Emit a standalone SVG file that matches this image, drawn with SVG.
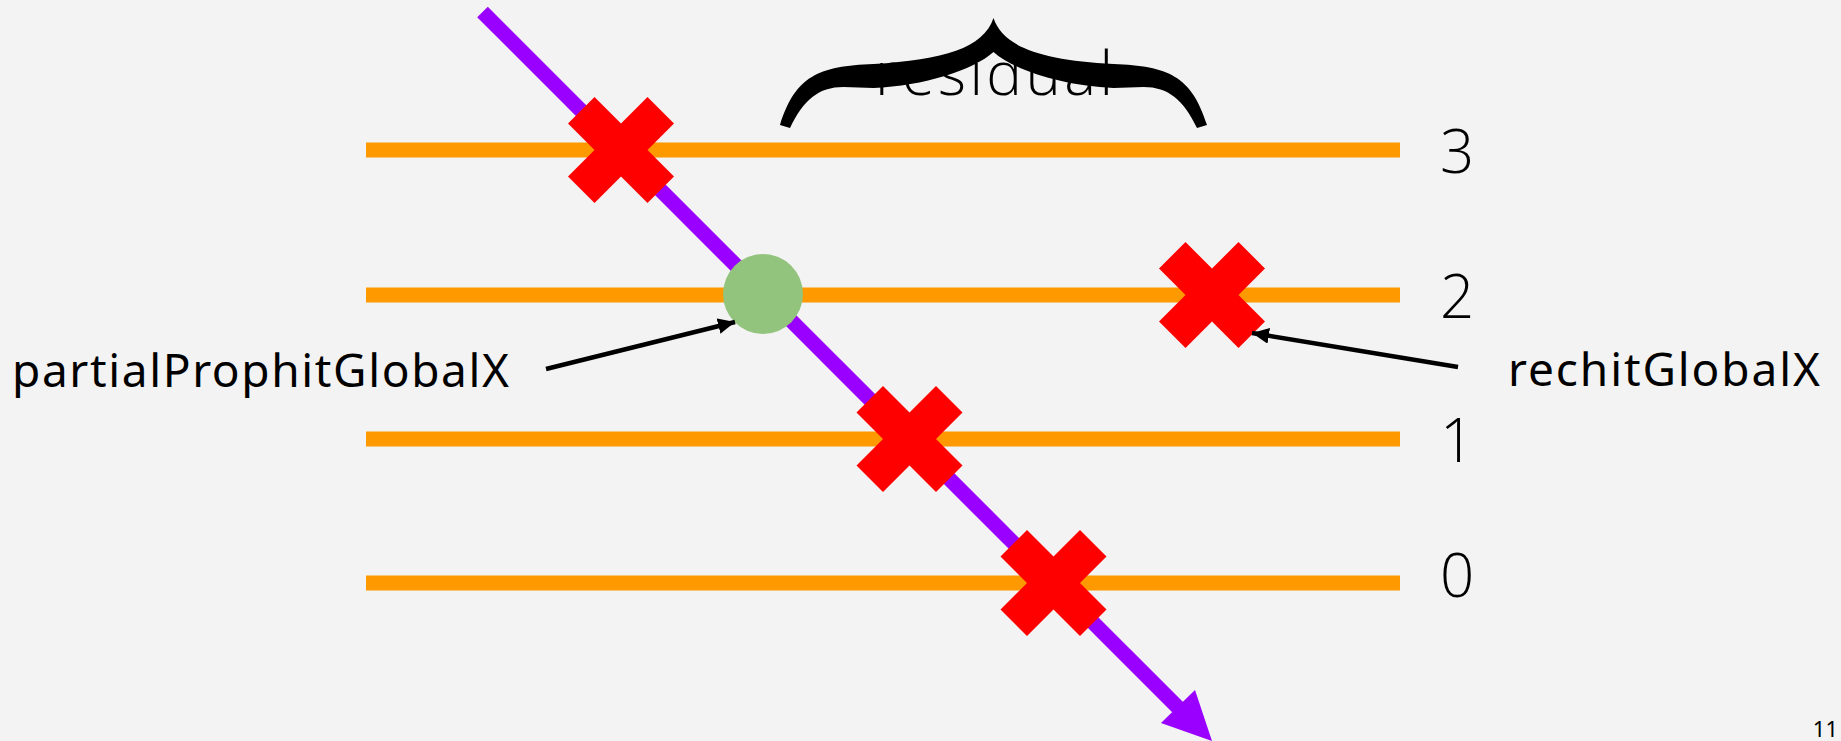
<svg xmlns="http://www.w3.org/2000/svg" width="1841" height="741" viewBox="0 0 1841 741">
  <style>
    .level { stroke: #FF9900; stroke-width: 15; }
    .label { font-family: "Noto Sans", "Open Sans", sans-serif; font-size: 46px; fill: #000; }
    .digit { font-family: "Open Sans", "Noto Sans", sans-serif; font-weight: 300; font-size: 60px; fill: #000; text-anchor: middle; }
    .hit { fill: #FF0000; }
    .pointer { stroke: #000; stroke-width: 4.5; fill: none; marker-end: url(#head); }
  </style>
  <defs>
    <!-- red cross marking a rejected hit -->
    <polygon id="cross" points="0,-26.5 26.5,-53 53,-26.5 26.5,0 53,26.5 26.5,53 0,26.5 -26.5,53 -53,26.5 -26.5,0 -53,-26.5 -26.5,-53"/>
    <marker id="head" markerUnits="userSpaceOnUse" markerWidth="20" markerHeight="18" refX="17" refY="8" orient="auto">
      <path d="M0,0 L17,8 L0,16 Z" fill="#000"/>
    </marker>
  </defs>

  <rect width="1841" height="741" fill="#F3F3F3"/>

  <!-- detector layers -->
  <g id="layer-3"><line class="level" x1="366" y1="150" x2="1400" y2="150"/><text class="digit" x="1457" y="173">3</text></g>
  <g id="layer-2"><line class="level" x1="366" y1="295" x2="1400" y2="295"/><text class="digit" x="1457" y="318">2</text></g>
  <g id="layer-1"><line class="level" x1="366" y1="439" x2="1400" y2="439"/><text class="digit" x="1457" y="462">1</text></g>
  <g id="layer-0"><line class="level" x1="366" y1="583" x2="1400" y2="583"/><text class="digit" x="1457" y="597">0</text></g>

  <!-- track -->
  <g id="track">
    <line x1="482.5" y1="12" x2="1181" y2="710.5" stroke="#9900FF" stroke-width="15"/>
    <polygon points="1212,741 1195,690 1161,723" fill="#9900FF"/>
  </g>

  <!-- hits -->
  <g id="hit-3"><use href="#cross" class="hit" x="621" y="150"/></g>
  <g id="hit-2-rechit"><use href="#cross" class="hit" x="1212" y="295"/></g>
  <g id="hit-1"><use href="#cross" class="hit" x="909.5" y="439"/></g>
  <g id="hit-0"><use href="#cross" class="hit" x="1053.5" y="583"/></g>
  <g id="prophit"><circle cx="763" cy="294" r="40" fill="#93C47D"/></g>

  <!-- residual brace -->
  <g id="residual">
    <path fill="#000" d="M993.5,18 C983.5,48 943.5,60 873.5,64 C818.5,66 795.5,76 780,125 L790,128 C803.5,100 818.5,87 843.5,87 L873.5,88 C923.5,86 973.5,70 993.5,52 C1013.5,70 1063.5,86 1113.5,88 L1143.5,87 C1168.5,87 1183.5,100 1197,128 L1207,125 C1191.5,76 1168.5,66 1113.5,64 C1043.5,60 1003.5,48 993.5,18 Z"/>
    <text x="994" y="95" font-family="Open Sans, Noto Sans, sans-serif" font-weight="300" font-size="60" text-anchor="middle" textLength="238">residual</text>
  </g>

  <g id="label-partial"><text class="label" x="12" y="387" textLength="497">partialProphitGlobalX</text></g>
  <g id="label-rechit"><text class="label" x="1508" y="386" textLength="312">rechitGlobalX</text></g>

  <!-- connectors -->
  <g id="connectors">
    <line class="pointer" x1="546" y1="369" x2="735" y2="322"/>
    <line class="pointer" x1="1458" y1="367" x2="1252" y2="333"/>
  </g>

  <text x="1838" y="737" font-family="Noto Sans, sans-serif" font-size="22" text-anchor="end">11</text>
</svg>
